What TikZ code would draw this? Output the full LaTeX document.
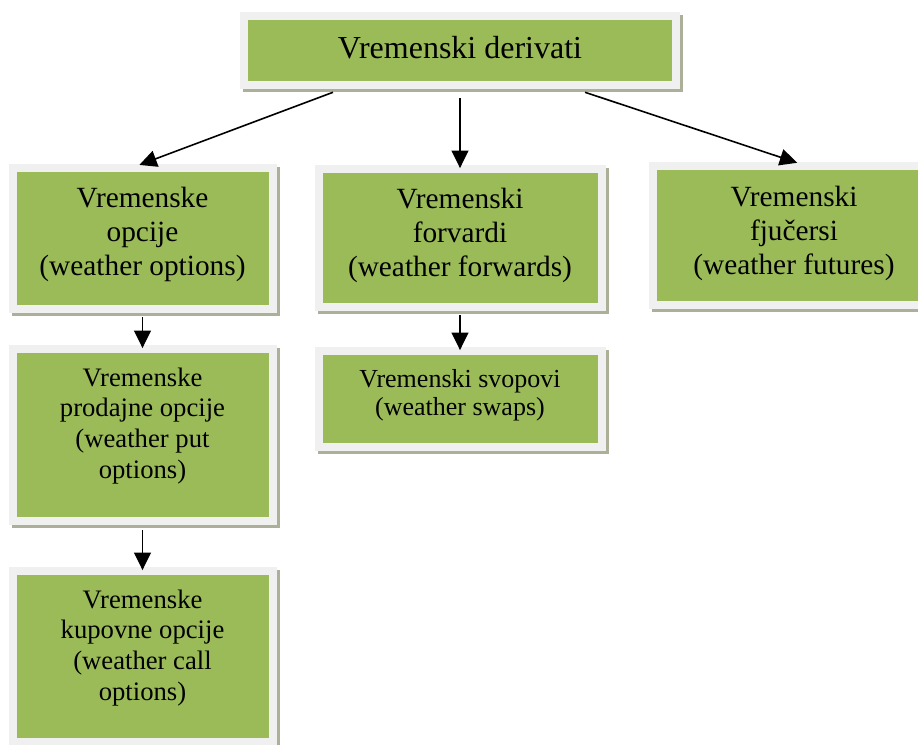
\documentclass[tikz,border=0pt]{standalone}
\usepackage{fontspec}
\setmainfont{Liberation Serif}
\usetikzlibrary{positioning,calc,shadows,arrows.meta}
\definecolor{boxgreen}{RGB}{155,187,89}
\definecolor{framegray}{RGB}{240,240,240}
\definecolor{shadowc}{RGB}{172,176,152}

\begin{document}
\begin{tikzpicture}[x=0.75pt,y=-0.75pt,
        vbox/.style={rectangle, fill=framegray, inner sep=0pt,
            drop shadow={shadow xshift=2.6pt, shadow yshift=-2.6pt, fill=shadowc, opacity=1},
            path picture={\fill[boxgreen]
                ([shift={(6pt,6pt)}]path picture bounding box.south west) rectangle
                ([shift={(-6pt,-6pt)}]path picture bounding box.north east);}},
        vtext/.style={align=center, inner sep=0pt, font=\fontsize{22}{25.5}\selectfont},
        vsmall/.style={vtext, font=\fontsize{20}{23}\selectfont},
        arr/.style={-{Triangle[length=13pt,width=12.5pt]}, line width=1.2pt, shorten >=-2.5pt}]
    \useasboundingbox (0,0) rectangle (918,744);
    \clip (0,0) rectangle (918,744);

    \node[vbox, minimum width=330pt, minimum height=57.75pt] (deriv) at (460,50.5) {};
    \node[vbox, minimum width=201pt, minimum height=111.75pt] (opcije) at (142.5,238.5) {};
    \node[vbox, minimum width=218.25pt, minimum height=109.5pt] (forvardi) at (460,238) {};
    \node[vbox, minimum width=218.25pt, minimum height=110.25pt] (fjucersi) at (794,235.5) {};
    \node[vbox, minimum width=201pt, minimum height=135pt] (prodajne) at (142.5,435) {};
    \node[vbox, minimum width=218.25pt, minimum height=78pt] (svopovi) at (460,399) {};
    \node[vbox, minimum width=201pt, minimum height=134.25pt] (kupovne) at (142.5,656.5) {};

    \node[vtext, font=\fontsize{24}{28}\selectfont, below=18.5pt of deriv.north] (deriv-t) {Vremenski derivati};
    \node[vtext, below=17pt of opcije.north] (opcije-t) {Vremenske\\opcije\\(weather options)};
    \node[vtext, below=17pt of forvardi.north] (forvardi-t) {Vremenski\\forvardi\\(weather forwards)};
    \node[vtext, below=18pt of fjucersi.north] (fjucersi-t) {Vremenski\\fjučersi\\(weather futures)};
    \node[vsmall, below=17pt of prodajne.north] (prodajne-t) {Vremenske\\prodajne opcije\\(weather put\\options)};
    \node[vsmall, font=\fontsize{19.5}{21}\selectfont, below=17pt of svopovi.north] (svopovi-t) {Vremenski svopovi\\(weather swaps)};
    \node[vsmall, below=17pt of kupovne.north] (kupovne-t) {Vremenske\\kupovne opcije\\(weather call\\options)};

    \draw[arr] ($(deriv.south)+(-127,3)$) -- (opcije.north);
    \draw[arr] ($(deriv.south)+(0,9)$) -- (forvardi.north);
    \draw[arr] ($(deriv.south)+(125,3)$) -- (fjucersi.north);
    \draw[arr] ($(opcije.south)+(0,4)$) -- (prodajne.north);
    \draw[arr] ($(forvardi.south)+(0,4)$) -- (svopovi.north);
    \draw[arr] ($(prodajne.south)+(0,5)$) -- (kupovne.north);
\end{tikzpicture}
\end{document}
